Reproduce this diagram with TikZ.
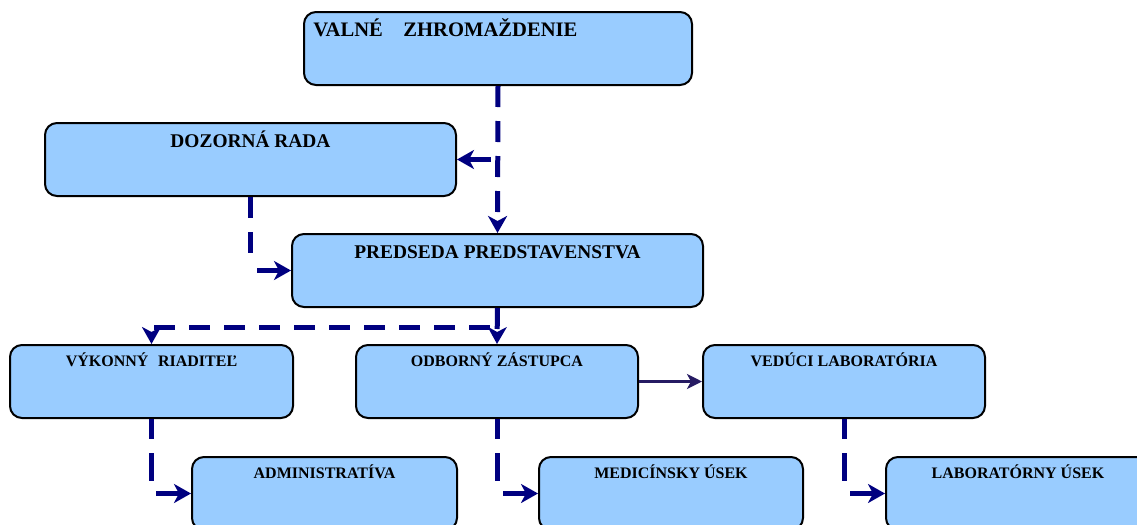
\documentclass[tikz,border=0pt]{standalone}
\usepackage{fontspec}
\setmainfont{Liberation Serif}
\usetikzlibrary{arrows.meta,calc,positioning}
\definecolor{BoxColor}{RGB}{153,204,255}
\definecolor{LinkColor}{RGB}{0,0,128}
\definecolor{SideColor}{RGB}{38,27,99}

\begin{document}
\begin{tikzpicture}[x=0.5pt,y=-0.5pt,
  unit/.style={draw=black,line width=1pt,fill=BoxColor,rounded corners=6pt,
    minimum height=36.5pt,inner sep=0pt},
  bigtext/.style={font=\bfseries\fontsize{9.7}{11}\selectfont,inner sep=0pt,anchor=base},
  smalltext/.style={font=\bfseries\fontsize{8}{10}\selectfont,inner sep=0pt,anchor=base},
  dashlink/.style={LinkColor,line width=2.5pt,dash pattern=on 10.5pt off 7pt},
  dasharrow/.style={dashlink,-{Stealth[length=8.5pt,width=9.5pt,inset=2.5pt]}},
  link/.style={LinkColor,line width=2.5pt,-{Stealth[length=8.5pt,width=9.5pt,inset=2.5pt]}}]
\useasboundingbox (0,0) rectangle (1137,525);
\clip (0,0) rectangle (1137,525);

\node[unit,minimum width=194pt] (vz) at (498,48.5) {};
\node[unit,minimum width=205.5pt] (dr) at (250.5,159.5) {};
\node[unit,minimum width=205.5pt] (pp) at (497.5,270.5) {};
\node[unit,minimum width=141.5pt] (vr) at (151.5,381.5) {};
\node[unit,minimum width=141pt] (oz) at (497,381.5) {};
\node[unit,minimum width=141pt] (vl) at (844,381.5) {};
\node[unit,minimum width=132.5pt] (adm) at (324.5,493.5) {};
\node[unit,minimum width=132pt] (med) at (671,493.5) {};
\node[unit,minimum width=132pt] (lab) at (1018,493.5) {};

\node[bigtext,font=\bfseries\fontsize{10.3}{12}\selectfont,anchor=base west] (vztext)
  at ($(vz.north west)+(10,25)$) {VALNÉ\hspace{1em}ZHROMAŽDENIE};
\node[bigtext] (drtext) at ($(dr.north)+(0,25)$) {DOZORNÁ RADA};
\node[bigtext] (pptext) at ($(pp.north)+(0,25)$) {PREDSEDA PREDSTAVENSTVA};
\node[smalltext] (vrtext) at ($(vr.north)+(0,22)$) {VÝKONNÝ\hspace{0.6em}RIADITEĽ};
\node[smalltext] (oztext) at ($(oz.north)+(0,22)$) {ODBORNÝ ZÁSTUPCA};
\node[smalltext] (vltext) at ($(vl.north)+(0,22)$) {VEDÚCI LABORATÓRIA};
\node[smalltext] (admtext) at ($(adm.north)+(0,22)$) {ADMINISTRATÍVA};
\node[smalltext] (medtext) at ($(med.north)+(0,22)$) {MEDICÍNSKY ÚSEK};
\node[smalltext] (labtext) at ($(lab.north)+(0,22)$) {LABORATÓRNY ÚSEK};

\draw[dasharrow] (vz.south) -- (pp.north);
\coordinate (drin) at ($(dr.east)+(34,0)$);
\draw[link] (drin) -- (dr.east);
\coordinate (drend) at ($(dr.south)+(0,66)$);
\draw[dashlink] (dr.south) -- (drend);
\coordinate (ppin) at ($(pp.west)+(-34,0)$);
\draw[link] (ppin) -- (pp.west);

\draw[dasharrow] (pp.south) -- (oz.north);
\coordinate (fork) at ($(pp.south)+(-8,19)$);
\draw[dasharrow] (fork) -| (vr.north);
\draw[SideColor,line width=1.8pt,-{Stealth[length=7.5pt,width=7.5pt,inset=2pt]}] (oz.east) -- (vl.west);

\foreach \up/\down in {vr/adm,oz/med,vl/lab}{
  \draw[dashlink,dash pattern=on 10pt off 7pt on 14pt off 7pt] (\up.south) -- ++(0,62);
  \draw[link] ($(\down.west)+(-35,0)$) -- (\down.west);
}
\end{tikzpicture}
\end{document}
